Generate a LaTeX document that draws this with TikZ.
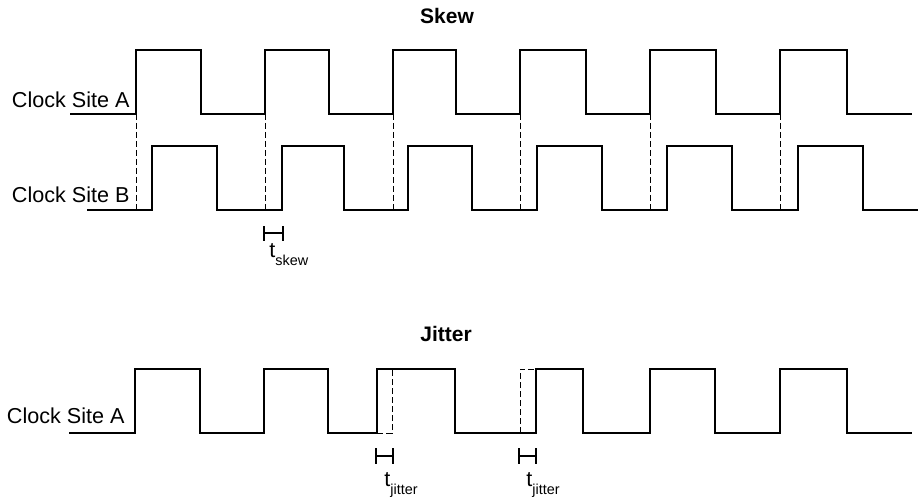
\documentclass[tikz,border=0pt]{standalone}
\usepackage{fontspec}
\setmainfont{Liberation Sans}
\usepackage{tikz}

\tikzset{
    wave/.style={line width=1pt, line join=miter},
    guide/.style={line width=0.5pt, dash pattern=on 3pt off 1.5pt},
    label/.style={inner sep=0pt, font=\fontsize{10.8}{12}\selectfont},
    title/.style={inner sep=0pt, font=\fontsize{10.5}{12}\selectfont\bfseries},
}
\newcommand{\tsub}[1]{t\raisebox{-4pt}{\fontsize{7.2}{8}\selectfont #1}}

\begin{document}
\begin{tikzpicture}[x=0.5pt, y=-0.5pt]
        \useasboundingbox (0,0) rectangle (919,497);

        \node[title, anchor=base] (skew) at (447,24) {Skew};
        \node[title, anchor=base] (jitter) at (446,341) {Jitter};

        \node[label, anchor=base east] (siteA) at (130,108) {Clock Site A};
        \node[label, anchor=base east] (siteB) at (130,202) {Clock Site B};
        \node[label, anchor=base east] (siteJ) at (125,423) {Clock Site A};

        \draw[wave] (70,114) \foreach \r/\f in {136/201, 265/329, 393/456, 520/586, 650/716, 780/847}
            { -- (\r,114) -- (\r,50) -- (\f,50) -- (\f,114) } -- (912,114);
        \draw[wave] (87,210) \foreach \r/\f in {152/217, 282/344, 408/472, 537/602, 667/732, 798/863}
            { -- (\r,210) -- (\r,146) -- (\f,146) -- (\f,210) } -- (918,210);
        \foreach \x in {136, 265, 393, 520, 650, 780}
            \draw[guide] (\x,114) -- (\x,210);

        \draw[wave] (69,433) \foreach \r/\f in {135/200, 264/328, 377/455, 536/583, 650/715, 780/847}
            { -- (\r,433) -- (\r,369) -- (\f,369) -- (\f,433) } -- (912,433);
        \draw[guide] (377,433) -- (392,433) -- (392,369);
        \draw[guide] (520,433) -- (520,369) -- (536,369);

        \draw[line width=0.8pt] (264,226) -- (264,241) (264,233) -- (283,233) (283,226) -- (283,241);
        \draw[line width=0.8pt] (376,448) -- (376,464) (376,456) -- (393,456) (393,448) -- (393,464);
        \draw[line width=0.8pt] (519,448) -- (519,464) (519,456) -- (536,456) (536,448) -- (536,464);

        \node[label, anchor=base west] (tskew) at (269,257) {\tsub{skew}};
        \node[label, anchor=base west] (tjitA) at (384,486) {\tsub{jitter}};
        \node[label, anchor=base west] (tjitB) at (526,486) {\tsub{jitter}};
    \end{tikzpicture}
\end{document}
